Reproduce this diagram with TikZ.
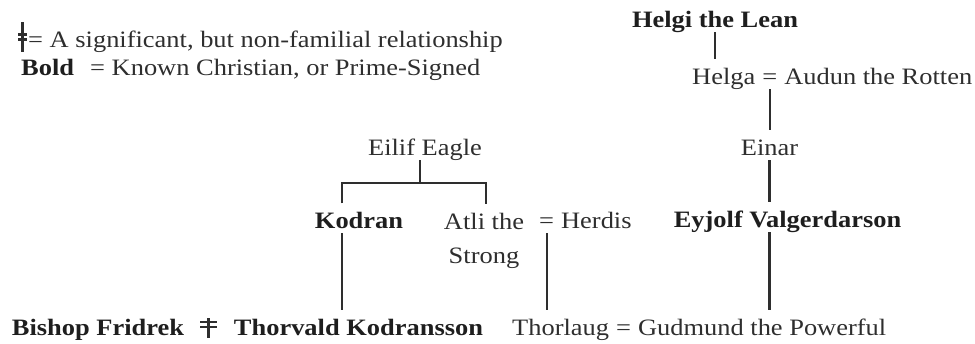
\documentclass[tikz,border=0pt]{standalone}
\usepackage{fontspec}
\setmainfont[FakeStretch=1.125]{Liberation Serif}
\definecolor{ink}{HTML}{2E2E2E}
\definecolor{inkbold}{HTML}{1E1E1E}
\begin{document}
\begin{tikzpicture}[x=1pt,y=-1pt,
  every node/.style={inner sep=0pt, text=ink, font=\fontsize{23.5}{34}\selectfont},
  person/.style={anchor=base, text height=16pt, text depth=5pt},
  chain/.style={anchor=base west, text height=16pt, text depth=5pt},
  saint/.style={text=inkbold, font=\fontsize{23.5}{34}\selectfont\bfseries},
  tree/.style={draw=ink, line width=2.1pt},
  link/.style={tree, shorten >=8.5pt},
  fork/.style={tree, shorten >=8.5pt, shorten <=8.5pt},
  marklines/.style={draw=ink, line width=2.1pt}]
\useasboundingbox (0,0) rectangle (975,343);

% legend
\coordinate (legmark) at (22.5,37);
\draw[marklines] ([shift={(-4.5,-2.5)}]legmark) -- ++(9,0)
                 ([shift={(-4.5,2.5)}]legmark) -- ++(9,0)
                 ([shift={(0,-15)}]legmark) -- ++(0,30);
\node[chain] (legtext) at (28,47) {= A significant, but non-familial relationship};
\node[chain, saint] (legbold) at (21,75) {Bold};
\node[chain] (legboldtext) at (90,75) {= Known Christian, or Prime-Signed};

% Helgi's line
\node[person, saint] (helgi) at (715,27) {Helgi the Lean};
\node[chain] (helga) at (692,84) {Helga};
\node[chain] (heq) at (helga.base east) {\ =\ \mbox{}};
\node[chain] (audun) at (heq.base east) {Audun the Rotten};
\node[person] (einar) at (769.5,155) {Einar};
\node[person, saint] (eyjolf) at (787.5,227) {Eyjolf Valgerdarson};

% Eilif's line
\node[person] (eilif) at (425,155) {Eilif Eagle};
\node[person, saint] (kodran) at (359,228) {Kodran};
\node[anchor=north, align=center] (atli) at (484,212.5) {Atli the\\Strong};
\node[chain] (hdeq) at (539,228) {=};
\node[chain] (herdis) at (hdeq.base east) {\ Herdis};

% bottom row
\node[person, saint] (fridrek) at (98,335) {Bishop Fridrek};
\node[person, saint] (thorvald) at (358.5,335) {Thorvald Kodransson};
\node[chain] (thorlaug) at (512,335) {Thorlaug};
\node[chain] (teq) at (thorlaug.base east) {\ =\ \mbox{}};
\node[chain] (gudmund) at (teq.base east) {Gudmund the Powerful};

% non-familial mark between Fridrek and Thorvald
\coordinate (nfmark) at (208.5,324.5);
\draw[marklines] ([shift={(-8.5,-2.5)}]nfmark) -- ++(17,0)
                 ([shift={(-8.5,2.5)}]nfmark) -- ++(17,0)
                 ([shift={(0,-6.5)}]nfmark) -- ++(0,20);

% descent lines
\draw[link] (helgi.south) -- (helgi.south |- helga.north);
\draw[link] (heq.south) -- (heq.south |- einar.north);
\draw[link] (einar.south) -- (einar.south |- eyjolf.north);
\draw[link] (einar.south |- eyjolf.south) -- (einar.south |- gudmund.north);

\coordinate (forktop) at (420,183);
\coordinate (kl) at (342,183);
\coordinate (kr) at (486,183);
\draw[tree] (forktop |- eilif.south) -- (forktop);
\draw[fork] (kl |- kodran.north) -- (kl) -- (kr) -- (kr |- atli.north);
\draw[link] (kl |- kodran.south) -- (kl |- thorvald.north);
\draw[link] (hdeq.south) -- (hdeq.south |- thorlaug.north);
\end{tikzpicture}
\end{document}
